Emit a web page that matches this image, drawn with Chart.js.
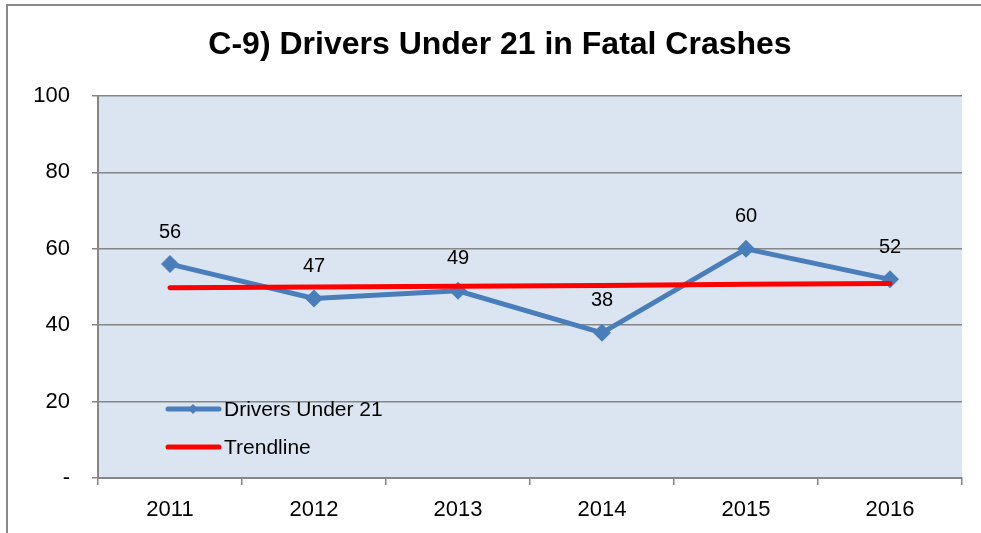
<!DOCTYPE html>
<html>
<head>
<meta charset="utf-8">
<script src="https://cdn.jsdelivr.net/npm/chart.js@4/dist/chart.umd.min.js"></script>
<style>
  html, body { margin: 0; padding: 0; background: #fff; }
  #wrap { width: 981px; height: 533px; position: relative; }
</style>
</head>
<body>
<div id="wrap"><canvas id="chart" width="981" height="533"></canvas></div>
<script>
const YEARS = ['2011', '2012', '2013', '2014', '2015', '2016']
const DRIVERS = [56, 47, 49, 38, 60, 52]
const TREND = [49.8, 50.0, 50.2, 50.4, 50.7, 50.9]
const TITLE = 'C-9) Drivers Under 21 in Fatal Crashes'
const FONT = 'Arial, "Liberation Sans", sans-serif'

// frame, title, plot background and legend inside the plot
const decor = {
    id: 'decor',
    beforeDraw: chart => {
        const ctx = chart.ctx
        const a = chart.chartArea
        ctx.save()
        ctx.fillStyle = '#fff'
        ctx.fillRect(0, 0, chart.width, chart.height)
        ctx.strokeStyle = '#898989'
        ctx.lineWidth = 2
        ctx.beginPath()
        ctx.moveTo(7, chart.height)
        ctx.lineTo(7, 5)
        ctx.lineTo(chart.width, 5)
        ctx.stroke()
        ctx.fillStyle = '#dbe5f1'
        ctx.fillRect(a.left, a.top, a.right - a.left, a.bottom - a.top)
        ctx.font = 'bold 32px ' + FONT
        ctx.fillStyle = '#000'
        ctx.textAlign = 'center'
        ctx.textBaseline = 'middle'
        ctx.fillText(TITLE, 500, 45)
        ctx.restore()
    },
    afterDatasetsDraw: chart => {
        const ctx = chart.ctx
        const a = chart.chartArea
        ctx.save()
        // value labels
        ctx.font = '20px ' + FONT
        ctx.fillStyle = '#000'
        ctx.textAlign = 'center'
        ctx.textBaseline = 'middle'
        chart.getDatasetMeta(0).data.forEach((p, i) => {
            ctx.fillText(String(DRIVERS[i]), p.x, p.y - 32)
        })
        // legend
        const lx = a.left + 68
        const items = [
            { text: 'Drivers Under 21', color: '#4a7ebb', marker: true, y: a.bottom - 69 },
            { text: 'Trendline', color: '#ff0000', marker: false, y: a.bottom - 31 }
        ]
        ctx.font = '21px ' + FONT
        ctx.textAlign = 'left'
        items.forEach(it => {
            ctx.strokeStyle = it.color
            ctx.lineWidth = 5
            ctx.lineCap = 'round'
            ctx.beginPath()
            ctx.moveTo(lx + 2, it.y)
            ctx.lineTo(lx + 53, it.y)
            ctx.stroke()
            if (it.marker) {
                ctx.fillStyle = it.color
                ctx.beginPath()
                const cx = lx + 27
                ctx.moveTo(cx, it.y - 5)
                ctx.lineTo(cx + 5, it.y)
                ctx.lineTo(cx, it.y + 5)
                ctx.lineTo(cx - 5, it.y)
                ctx.closePath()
                ctx.fill()
            }
            ctx.fillStyle = '#000'
            ctx.fillText(it.text, lx + 58, it.y + 1)
        })
        ctx.restore()
    }
}

new Chart(document.getElementById('chart'), {
    type: 'line',
    data: {
        labels: YEARS,
        datasets: [{
            label: 'Drivers Under 21',
            data: DRIVERS,
            borderColor: '#4a7ebb',
            backgroundColor: '#4a7ebb',
            borderWidth: 5,
            pointStyle: 'rectRot',
            pointRadius: 9,
            pointHoverRadius: 9,
            pointBorderWidth: 0,
            tension: 0,
            order: 2
        }, {
            label: 'Trendline',
            data: TREND,
            borderColor: '#ff0000',
            backgroundColor: '#ff0000',
            borderWidth: 5,
            borderCapStyle: 'round',
            pointRadius: 0,
            pointHoverRadius: 0,
            tension: 0,
            order: 1
        }]
    },
    options: {
        responsive: false,
        animation: false,
        layout: { padding: { left: 18, right: 19, top: 96, bottom: 0 } },
        plugins: {
            legend: { display: false },
            tooltip: { enabled: false },
            title: { display: false }
        },
        scales: {
            x: {
                offset: true,
                grid: {
                    offset: true,
                    drawOnChartArea: false,
                    drawTicks: true,
                    tickLength: 7,
                    color: '#868686',
                    lineWidth: 1.5
                },
                border: { color: '#868686', width: 2 },
                ticks: {
                    color: '#000',
                    font: { family: FONT, size: 22 },
                    padding: 12
                },
                afterFit: s => { s.height = 55 }
            },
            y: {
                min: 0,
                max: 100,
                ticks: {
                    stepSize: 20,
                    color: '#000',
                    font: { family: FONT, size: 22 },
                    padding: 22,
                    callback: v => v === 0 ? '-' : v
                },
                grid: {
                    color: '#868686',
                    lineWidth: 1.5,
                    tickLength: 6
                },
                border: { color: '#868686', width: 2 },
                afterFit: s => { s.width = 80 }
            }
        }
    },
    plugins: [decor]
})
</script>
</body>
</html>
